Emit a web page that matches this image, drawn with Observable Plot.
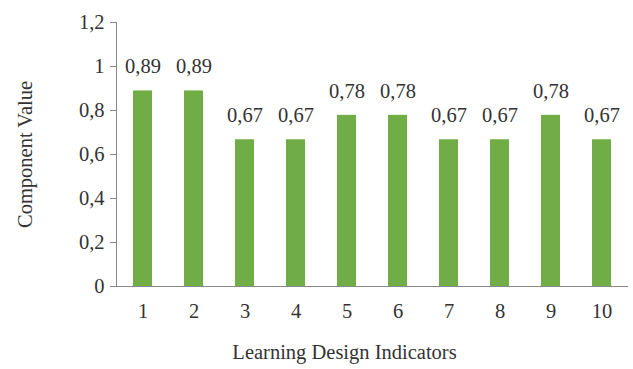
<!DOCTYPE html>
<html>
<head>
<meta charset="utf-8">
<script src="https://cdn.jsdelivr.net/npm/d3@7"></script>
<script src="https://cdn.jsdelivr.net/npm/@observablehq/plot@0.6"></script>
<style>
  html, body { margin: 0; padding: 0; background: #fff; }
  svg { display: block; }
  svg text { font-family: "Liberation Serif", "Times New Roman", serif !important; }
</style>
</head>
<body>
<div id="chart"></div>
<script>
const indicators = ["1","2","3","4","5","6","7","8","9","10"];
const values = [0.889, 0.889, 0.667, 0.667, 0.778, 0.778, 0.667, 0.667, 0.778, 0.667];
const valueLabels = ["0,89","0,89","0,67","0,67","0,78","0,78","0,67","0,67","0,78","0,67"];
const yTicks = [0, 0.2, 0.4, 0.6, 0.8, 1, 1.2];
const yTickLabels = ["0","0,2","0,4","0,6","0,8","1","1,2"];
const xTitle = "Learning Design Indicators";
const yTitle = "Component Value";

const data = indicators.map((k, i) => ({k, v: values[i], lab: valueLabels[i]}));

const chart = Plot.plot({
  width: 633,
  height: 369,
  marginLeft: 116,
  marginRight: 5,
  marginTop: 22,
  marginBottom: 83,
  style: {fontSize: "20px", color: "#333", background: "#fff"},
  x: {domain: indicators, paddingInner: 0.63, paddingOuter: 0.315, label: null},
  y: {domain: [0, 1.2], label: null},
  marks: [
    Plot.barY(data, {x: "k", y: "v", fill: "#70AD47"}),
    Plot.text(data, {x: "k", y: "v", text: "lab", dy: -24, fill: "#333", fontSize: 20.5}),
    Plot.axisY({ticks: yTicks, tickFormat: (d) => yTickLabels[yTicks.indexOf(d)], tickSize: 6, tickPadding: 6,
      stroke: "#888", strokeOpacity: 1, fill: "#333", fontSize: 20.5,
      label: yTitle, labelAnchor: "center", labelArrow: "none", labelOffset: 99, dy: 0}),
    Plot.frame({anchor: "left", stroke: "#888"}),
    Plot.axisX({tickSize: 0, tickPadding: 17, fill: "#333", fontSize: 20.5, label: null}),
    Plot.ruleY([0], {stroke: "#888"}),
    Plot.text([xTitle], {frameAnchor: "bottom", dy: 72, dx: -28, fill: "#333", fontSize: 20.5})
  ]
});
document.getElementById("chart").appendChild(chart);
</script>
</body>
</html>
